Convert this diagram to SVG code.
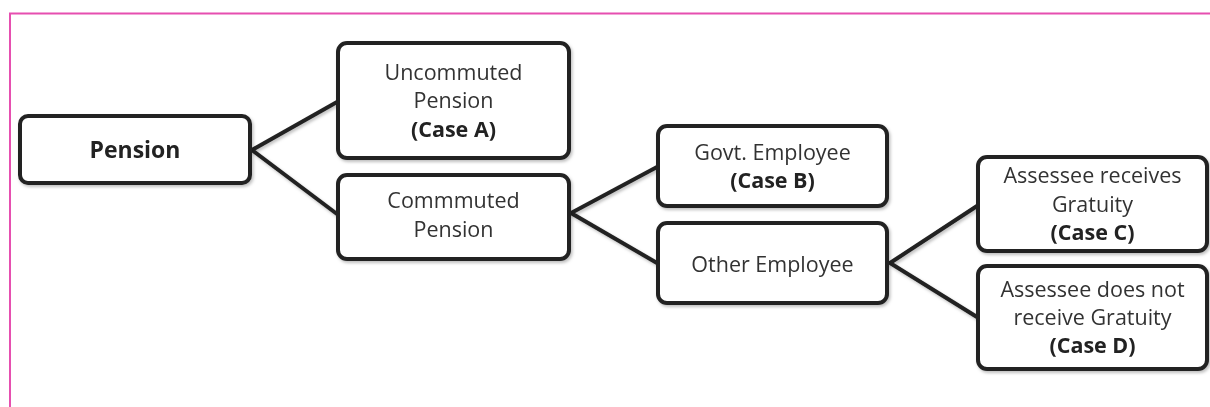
<svg xmlns="http://www.w3.org/2000/svg" width="1210" height="407" viewBox="0 0 1210 407">
<defs>
<filter id="sh" x="-10%" y="-10%" width="130%" height="140%">
<feDropShadow dx="1.5" dy="2" stdDeviation="1.5" flood-color="#000" flood-opacity="0.25"/>
</filter>
</defs>
<style>
.box{fill:#fff;stroke:#222;stroke-width:4;}
.ln{stroke:#222;stroke-width:4;fill:none;stroke-linecap:round;}
text{font-family:"Open Sans","Noto Sans","Liberation Sans",sans-serif;font-size:21.5px;fill:#333;text-anchor:middle;}
.b{font-weight:bold;fill:#222;}
.t{font-size:23px;}
</style>
<rect width="1210" height="407" fill="#fff"/>
<path d="M10 407 V13.5 H1210" fill="none" stroke="#e64fb0" stroke-width="2"/>
<g id="connectors" filter="url(#sh)">
<path class="ln" d="M337 102 L252 150 L337 214"/>
<path class="ln" d="M657 167 L571 213 L657 263"/>
<path class="ln" d="M977 206 L890 263 L977 317"/>
</g>
<g id="pension" filter="url(#sh)">
<rect class="box" x="20" y="116" width="230" height="67" rx="8"/>
<text class="b t" x="135" y="158">Pension</text>
</g>
<g id="uncommuted" filter="url(#sh)">
<rect class="box" x="338" y="43" width="231" height="115" rx="9"/>
<text x="453.5" y="80">Uncommuted</text>
<text x="453.5" y="108">Pension</text>
<text class="b" x="453.5" y="137">(Case A)</text>
</g>
<g id="commuted" filter="url(#sh)">
<rect class="box" x="338" y="175" width="231" height="84" rx="9"/>
<text x="453.5" y="208">Commmuted</text>
<text x="453.5" y="237">Pension</text>
</g>
<g id="govt" filter="url(#sh)">
<rect class="box" x="658" y="126" width="229" height="80" rx="9"/>
<text x="772.5" y="160">Govt. Employee</text>
<text class="b" x="772.5" y="188">(Case B)</text>
</g>
<g id="other" filter="url(#sh)">
<rect class="box" x="658" y="223" width="229" height="80" rx="9"/>
<text x="772.5" y="272">Other Employee</text>
</g>
<g id="caseC" filter="url(#sh)">
<rect class="box" x="978" y="157" width="229" height="94" rx="9"/>
<text x="1092.5" y="183">Assessee receives</text>
<text x="1092.5" y="212">Gratuity</text>
<text class="b" x="1092.5" y="240">(Case C)</text>
</g>
<g id="caseD" filter="url(#sh)">
<rect class="box" x="978" y="266" width="229" height="103" rx="9"/>
<text x="1092.5" y="297">Assessee does not</text>
<text x="1092.5" y="325">receive Gratuity</text>
<text class="b" x="1092.5" y="353">(Case D)</text>
</g>
</svg>
